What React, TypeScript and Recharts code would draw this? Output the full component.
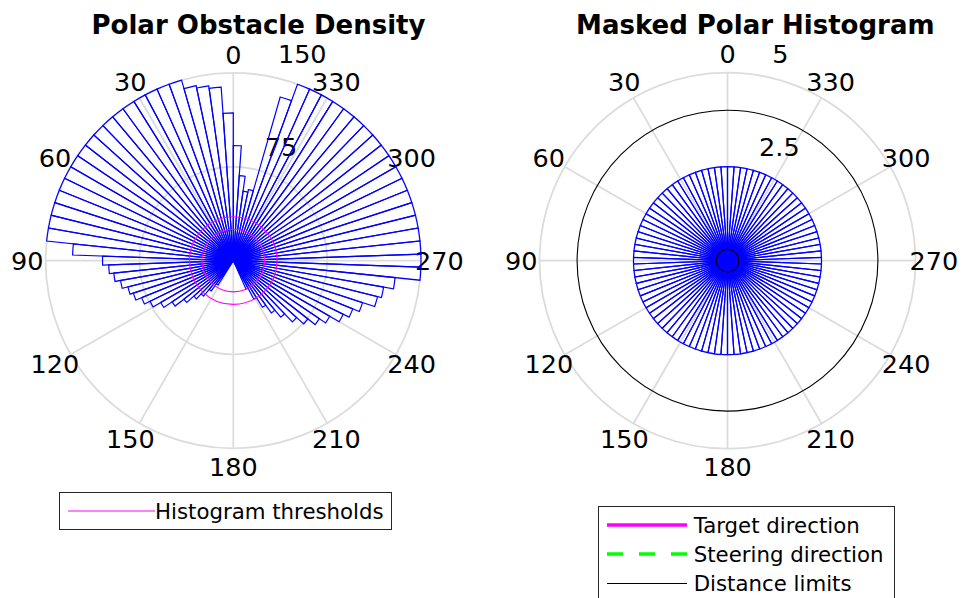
import React from 'react';
import {
  RadialBarChart,
  RadialBar,
  RadarChart,
  PolarAngleAxis,
  PolarRadiusAxis,
  PolarGrid,
} from 'recharts';

const FONT = '"DejaVu Sans", Verdana, sans-serif';

// angular sectors (start angle of each 4° bin, degrees, 0 at top, counter-clockwise)
const binStarts = [
  0, 4, 8, 12, 16, 20, 24, 28, 32, 36,
  40, 44, 48, 52, 56, 60, 64, 68, 72, 76,
  80, 84, 88, 92, 96, 100, 104, 108, 112, 116,
  120, 124, 128, 132, 136, 140, 144, 148, 152, 156,
  160, 164, 168, 172, 176, 180, 184, 188, 192, 196,
  200, 204, 208, 212, 216, 220, 224, 228, 232, 236,
  240, 244, 248, 252, 256, 260, 264, 268, 272, 276,
  280, 284, 288, 292, 296, 300, 304, 308, 312, 316,
  320, 324, 328, 332, 336, 340, 344, 348, 352, 356,
];

// Polar obstacle density per sector
const obstacleDensity = [
  92, 118, 139, 141, 143, 150, 150, 150, 150, 150,
  150, 150, 150, 150, 150, 150, 150, 150, 150, 150,
  150, 150, 128.5, 104.5, 99.6, 96, 91.5, 86.8, 84, 79,
  74, 67, 59, 50, 42.5, 37, 30, 23, 0, 0,
  0, 0, 0, 0, 0, 0, 0, 0, 0, 0,
  0, 0, 25, 35, 44, 51.7, 59, 68, 75.7, 83,
  89, 97.7, 103, 108.6, 118.8, 122, 130, 150, 150, 150,
  150, 150, 150, 150, 150, 150, 150, 150, 150, 150,
  150, 150, 150, 150, 150, 150, 136, 58, 56, 68,
];

// Masked polar histogram per sector
const maskedHistogram = [
  2.5, 2.5, 2.5, 2.5, 2.5, 2.5, 2.5, 2.5, 2.5, 2.5,
  2.5, 2.5, 2.5, 2.5, 2.5, 2.5, 2.5, 2.5, 2.5, 2.5,
  2.5, 2.5, 2.5, 2.5, 2.5, 2.5, 2.5, 2.5, 2.5, 2.5,
  2.5, 2.5, 2.5, 2.5, 2.5, 2.5, 2.5, 2.5, 2.5, 2.5,
  2.5, 2.5, 2.5, 2.5, 2.5, 2.5, 2.5, 2.5, 2.5, 2.5,
  2.5, 2.5, 2.5, 2.5, 2.5, 2.5, 2.5, 2.5, 2.5, 2.5,
  2.5, 2.5, 2.5, 2.5, 2.5, 2.5, 2.5, 2.5, 2.5, 2.5,
  2.5, 2.5, 2.5, 2.5, 2.5, 2.5, 2.5, 2.5, 2.5, 2.5,
  2.5, 2.5, 2.5, 2.5, 2.5, 2.5, 2.5, 2.5, 2.5, 2.5,
];

const angleTicks = [0, 30, 60, 90, 120, 150, 180, 210, 240, 270, 300, 330];
const densityRadiusTicks = [75, 150];
const densityRadiusMax = 150;
const maskedRadiusTicks = [2.5, 5];
const maskedRadiusMax = 5;
const histogramThresholds = [25, 35];
const distanceLimits = [0.3, 4];

const densityData = binStarts.map((b, i) => ({ bin: b, value: obstacleDensity[i] }));
const maskedData = binStarts.map((b, i) => ({ bin: b, value: maskedHistogram[i] }));
const angleData = angleTicks.map((a) => ({ angle: a }));

const AngleTick = (props: any) => {
  const { x, y, payload } = props;
  return (
    <text x={x} y={y} dy={9} textAnchor="middle" fontSize={25.5} fontFamily={FONT} fill="#000">
      {payload.value}
    </text>
  );
};

const RadiusTick = (props: any) => {
  const { x, y, payload } = props;
  return (
    <text x={x + 18.5} y={y - 20.6} dy={9} textAnchor="start" fontSize={25.5} fontFamily={FONT} fill="#000">
      {payload.value}
    </text>
  );
};

type PanelProps = {
  left: number;
  width: number;
  cx: number;
  cy: number;
  R: number;
  data: any[];
  maxR: number;
  rTicks: number[];
  circles: number[];
  circleColor: string;
};

const common = (width: number, cx: number, cy: number, R: number, start = 90) => ({
  width,
  height: 598,
  cx,
  cy,
  innerRadius: 0,
  outerRadius: R,
  startAngle: start,
  endAngle: start + 360,
  margin: { top: 0, right: 0, bottom: 0, left: 0 },
});

const layer: React.CSSProperties = { position: 'absolute', left: 0, top: 0 };

// the category angle axis of the radar layer places each tick one band (30°)
// before its band start, so that layer is started 30° later to put "0" at the top
const LABEL_START = 120;

const PolarPanel = ({ left, width, cx, cy, R, data, maxR, rTicks, circles, circleColor }: PanelProps) => (
  <div style={{ position: 'absolute', left, top: 0, width, height: 598 }}>
    {/* grid, angle labels, radius labels */}
    <div style={layer}>
      <RadarChart {...common(width, cx, cy, R, LABEL_START)} data={angleData}>
        <PolarGrid gridType="circle" stroke="#dcdcdc" strokeWidth={1.8} />
        <PolarAngleAxis
          dataKey="angle"
          type="category"
          tick={AngleTick}
          tickLine={false}
          axisLine={false}
          tickSize={18.3}
        />
        <PolarRadiusAxis
          type="number"
          domain={[0, maxR]}
          allowDataOverflow
          ticks={rTicks}
          angle={82}
          tick={RadiusTick}
          axisLine={false}
          tickLine={false}
        />
      </RadarChart>
    </div>
    {/* histogram sectors */}
    <div style={layer}>
      <RadialBarChart
        {...common(width, cx, cy, R)}
        data={data}
        layout="centric"
        barCategoryGap={0}
        barGap={0}
      >
        <PolarAngleAxis dataKey="bin" type="category" tick={false} tickLine={false} axisLine={false} />
        <PolarRadiusAxis
          type="number"
          domain={[0, maxR]}
          allowDataOverflow
          tick={false}
          tickLine={false}
          axisLine={false}
        />
        <RadialBar
          dataKey="value"
          fill="none"
          stroke="#0000ff"
          strokeWidth={1.2}
          isAnimationActive={false}
        />
      </RadialBarChart>
    </div>
    {/* threshold / limit circles */}
    <div style={layer}>
      <RadarChart {...common(width, cx, cy, R, LABEL_START)} data={angleData}>
        <PolarGrid gridType="circle" radialLines={false} stroke={circleColor} strokeWidth={1.1} />
        <PolarAngleAxis dataKey="angle" type="category" tick={false} tickLine={false} axisLine={false} />
        <PolarRadiusAxis
          type="number"
          domain={[0, maxR]}
          allowDataOverflow
          ticks={circles}
          tick={false}
          tickLine={false}
          axisLine={false}
        />
      </RadarChart>
    </div>
  </div>
);

export default function App() {
  return (
    <div
      style={{
        position: 'absolute',
        left: 0,
        top: 0,
        width: 967,
        height: 598,
        overflow: 'hidden',
        background: '#ffffff',
        fontFamily: FONT,
      }}
    >
      <PolarPanel
        left={0}
        width={483}
        cx={233.3}
        cy={260.6}
        R={187.7}
        data={densityData}
        maxR={densityRadiusMax}
        rTicks={densityRadiusTicks}
        circles={histogramThresholds}
        circleColor="#ff00ff"
      />
      <PolarPanel
        left={483}
        width={484}
        cx={244.5}
        cy={260.7}
        R={188}
        data={maskedData}
        maxR={maskedRadiusMax}
        rTicks={maskedRadiusTicks}
        circles={distanceLimits}
        circleColor="#000000"
      />
      <svg
        width={967}
        height={598}
        style={{ position: 'absolute', left: 0, top: 0, pointerEvents: 'none' }}
      >
        <text x={258.5} y={34} textAnchor="middle" fontSize={26} fontWeight="bold" fontFamily={FONT} fill="#000">
          Polar Obstacle Density
        </text>
        <text x={755.3} y={34} textAnchor="middle" fontSize={26} fontWeight="bold" fontFamily={FONT} fill="#000">
          Masked Polar Histogram
        </text>

        {/* left legend */}
        <rect x={59.5} y={492.5} width={332} height={37} fill="#fff" stroke="#262626" strokeWidth={1} />
        <line x1={68} y1={511} x2={155} y2={511} stroke="#ff00ff" strokeWidth={1} />
        <text x={155} y={511} dy={7.5} fontSize={21.3} fontFamily={FONT} fill="#000">
          Histogram thresholds
        </text>

        {/* right legend */}
        <rect x={598.5} y={506.5} width={296} height={120} fill="#fff" stroke="#262626" strokeWidth={1} />
        <line x1={607} y1={525} x2={687} y2={525} stroke="#ff00ff" strokeWidth={3.5} />
        <text x={693.7} y={525} dy={7.5} fontSize={21.3} fontFamily={FONT} fill="#000">
          Target direction
        </text>
        <line x1={607} y1={554} x2={687} y2={554} stroke="#00ff00" strokeWidth={3.5} strokeDasharray="16 16" />
        <text x={693.7} y={554} dy={7.5} fontSize={21.3} fontFamily={FONT} fill="#000">
          Steering direction
        </text>
        <line x1={607} y1={583.5} x2={687} y2={583.5} stroke="#000000" strokeWidth={1} />
        <text x={693.7} y={583.5} dy={7.5} fontSize={21.3} fontFamily={FONT} fill="#000">
          Distance limits
        </text>
      </svg>
    </div>
  );
}
